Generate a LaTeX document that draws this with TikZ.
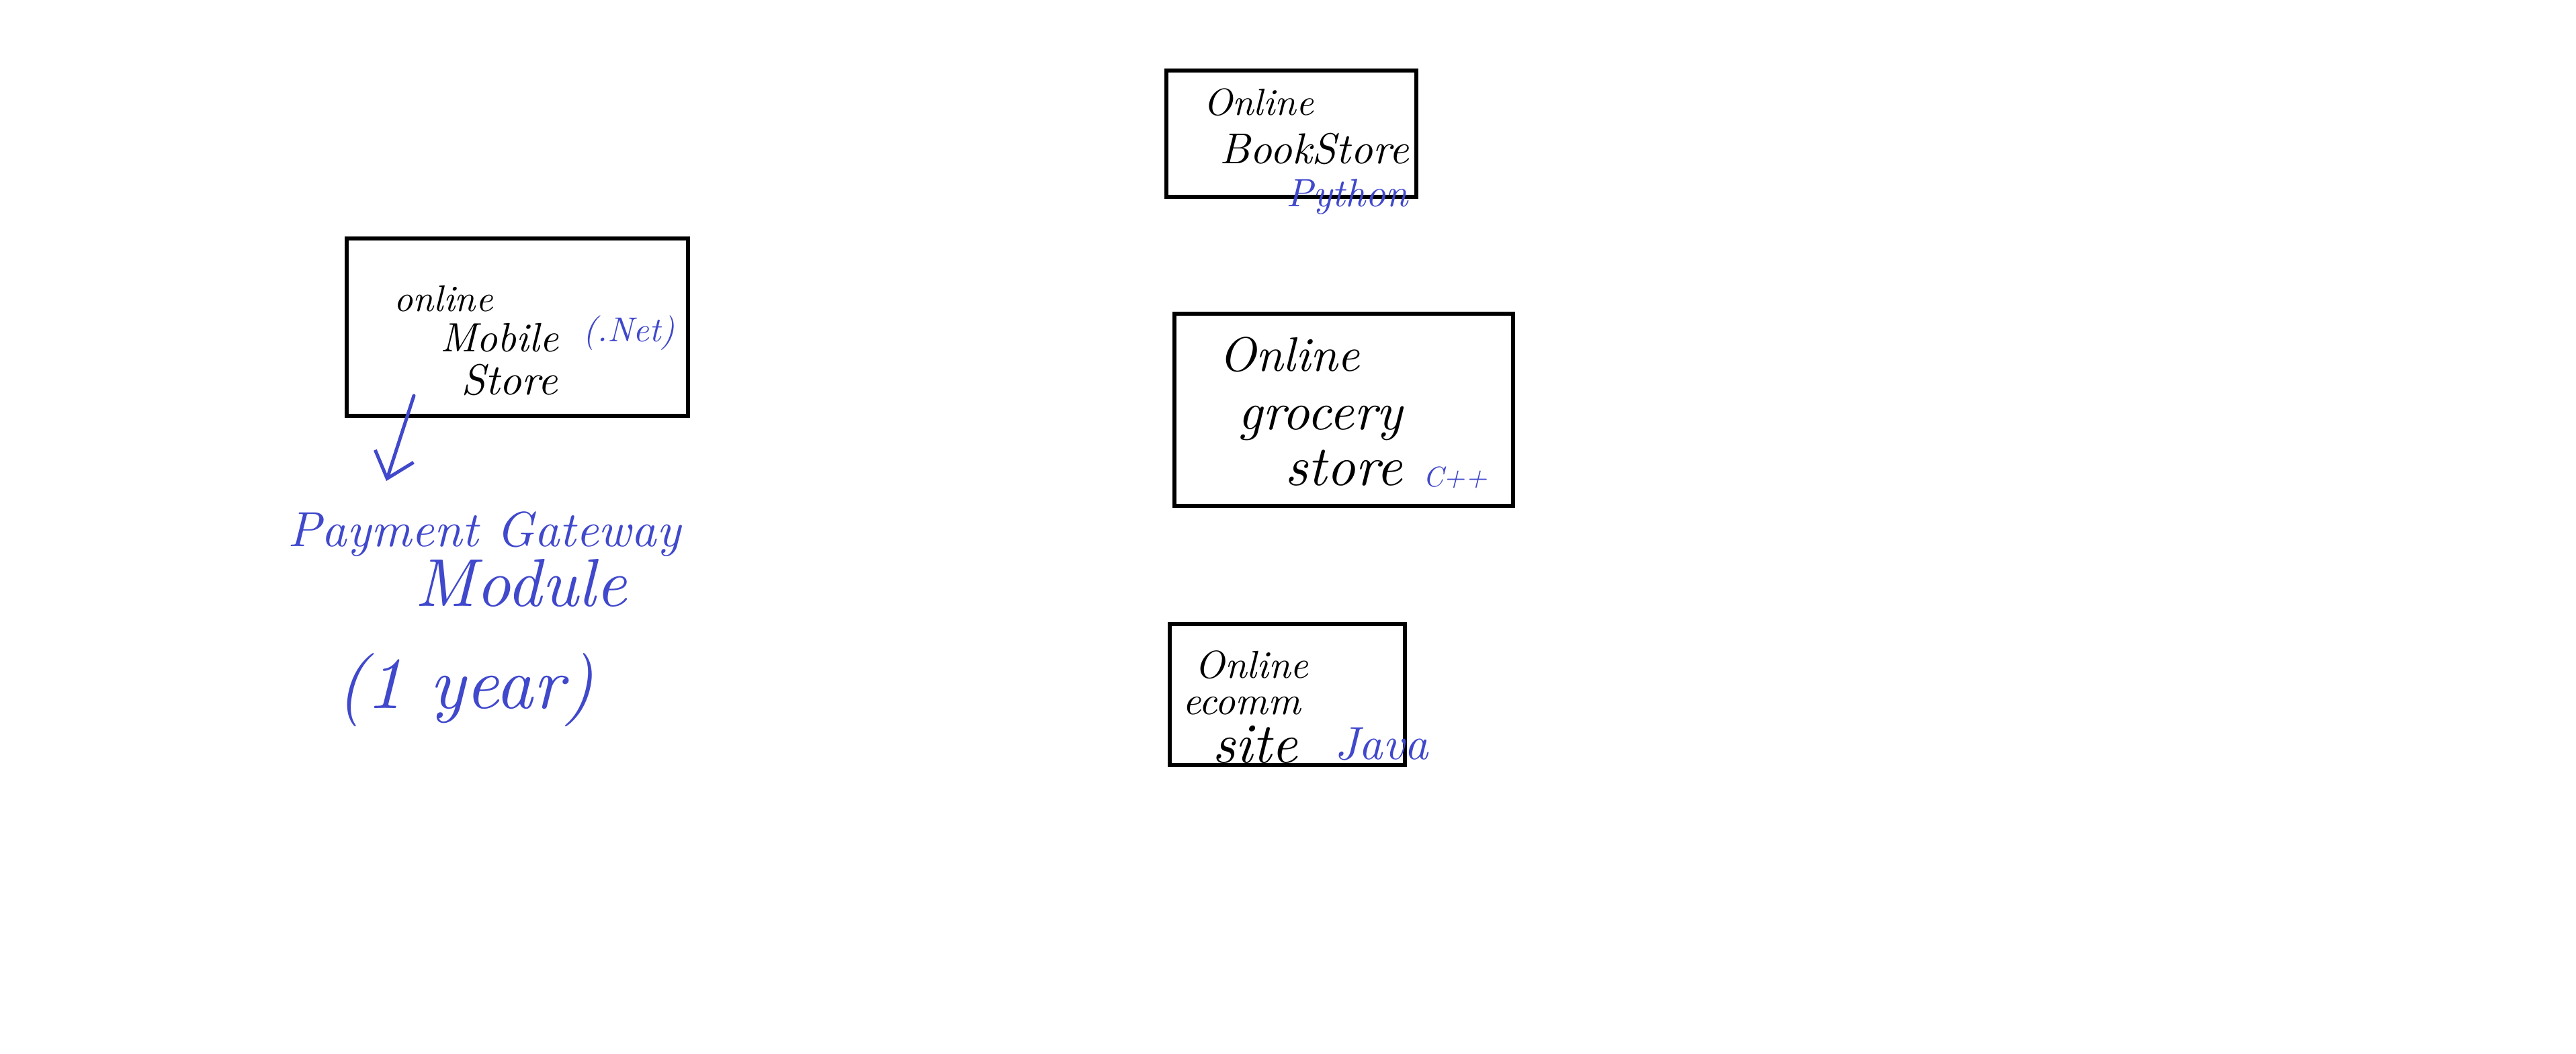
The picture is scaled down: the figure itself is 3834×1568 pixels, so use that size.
\documentclass[tikz,border=0pt]{standalone}
\usetikzlibrary{arrows.meta}
\definecolor{hwblue}{RGB}{64,72,204}
\newcommand{\hw}[2]{\resizebox{#1}{!}{#2}}
\begin{document}
\begin{tikzpicture}[x=0.1mm,y=-0.1mm,
  box/.style={draw=black, line width=0.6mm, inner sep=0, fill=none},
  lbl/.style={inner sep=0, text=black, font=\itshape},
  note/.style={inner sep=0, text=hwblue, font=\itshape},
  conn/.style={draw=hwblue, line width=0.5mm, line cap=round, -{Straight Barb[length=3.5mm,width=6mm]}}]
\fill[white] (0,0) rectangle (3834,1568);
\useasboundingbox (0,0) rectangle (3834,1568);

% boxes
\node[box, minimum width=37.2mm, minimum height=18.8mm] (book) at (1922,199) {};
\node[box, minimum width=50.8mm, minimum height=26.4mm] (mobile) at (770,487) {};
\node[box, minimum width=50.4mm, minimum height=28.6mm] (grocery) at (2000,610) {};
\node[box, minimum width=35.0mm, minimum height=21.0mm] (ecomm) at (1916,1034) {};

% bookstore
\node[lbl] (b1) at (1873,152) {\hw{16.4mm}{Online}};
\node[lbl] (b2) at (1956,222) {\hw{28.1mm}{BookStore}};
\node[note] (b3) at (2005,293) {\hw{18.1mm}{Python}};

% mobile
\node[lbl] (m1) at (660,445) {\hw{14.7mm}{online}};
\node[lbl] (m2) at (743,503) {\hw{17.6mm}{Mobile}};
\node[lbl] (m3) at (758,565) {\hw{14.4mm}{Store}};
\node[note] (m4) at (936,496) {\hw{13.7mm}{(.Net)}};

% grocery
\node[lbl] (g1) at (1919,528) {\hw{21.0mm}{Online}};
\node[lbl] (g2) at (1965,630) {\hw{24.5mm}{grocery}};
\node[lbl] (g3) at (2000,697) {\hw{17.5mm}{store}};
\node[note] (g4) at (2166,711) {\hw{9.5mm}{C++}};

% ecomm
\node[lbl] (e1) at (1863,990) {\hw{16.9mm}{Online}};
\node[lbl] (e2) at (1848,1051) {\hw{17.6mm}{ecomm}};
\node[lbl] (e3) at (1868,1108) {\hw{12.7mm}{site}};
\node[note] (e4) at (2056,1108) {\hw{13.9mm}{Java}};

% payment gateway
\node[note] (p1) at (721,795) {\hw{58.4mm}{Payment Gateway}};
\node[note] (p2) at (775,868) {\hw{31.5mm}{Module}};
\node[note] (p3) at (692,1027) {\hw{38.4mm}{(1 year)}};

\coordinate (arrs) at (616,589);
\coordinate (arre) at (575,716);
\draw[conn] (arrs) -- (arre);
\end{tikzpicture}
\end{document}
